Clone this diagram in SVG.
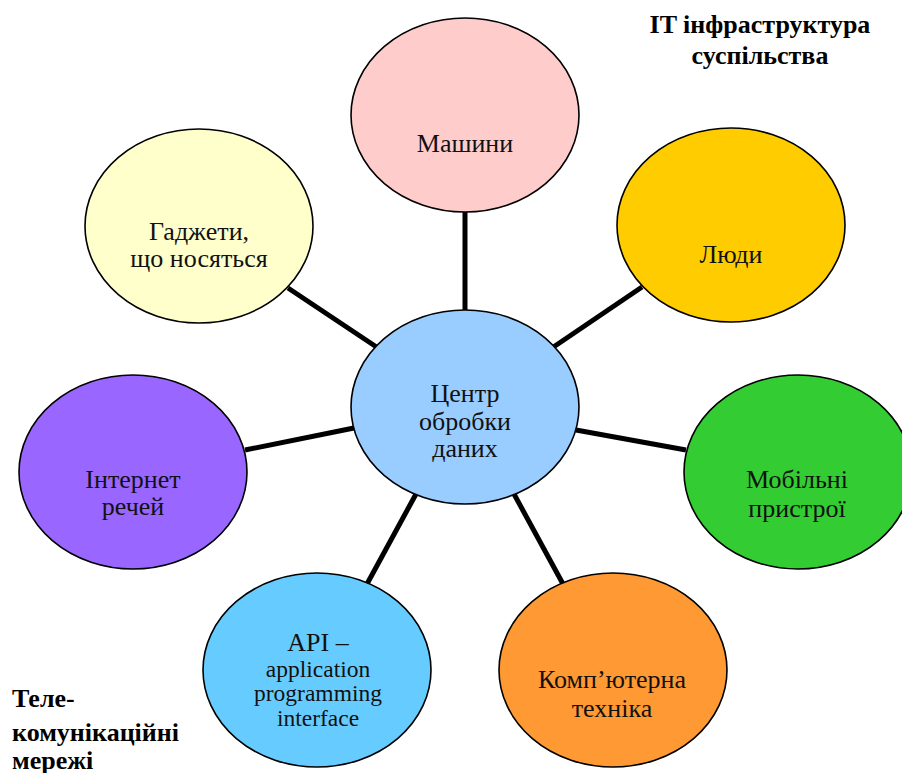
<svg xmlns="http://www.w3.org/2000/svg" width="902" height="773" viewBox="0 0 902 773">
  <style>
    .node ellipse { stroke: #000; stroke-width: 1.6; }
    .label { font-family: 'Liberation Serif', serif; font-size: 26px; fill: #111; text-anchor: middle; }
    .small { font-size: 23.5px; }
    .link { stroke: #000; stroke-width: 5; stroke-linecap: butt; }
    .caption { font-family: 'Liberation Serif', serif; font-size: 26px; font-weight: bold; fill: #000; }
  </style>
  <rect width="902" height="773" fill="#fff"/>

  <!-- spokes from the hub to every satellite -->
  <g id="connectors">
    <line class="link" x1="465" y1="210" x2="465" y2="312"/>
    <line class="link" x1="642" y1="287" x2="552" y2="348"/>
    <line class="link" x1="288" y1="288" x2="378" y2="348"/>
    <line class="link" x1="245" y1="450" x2="354" y2="428"/>
    <line class="link" x1="576" y1="430" x2="686" y2="450"/>
    <line class="link" x1="367" y1="584" x2="416" y2="494"/>
    <line class="link" x1="514" y1="494" x2="563" y2="584"/>
  </g>

  <g id="node-machines" class="node">
    <ellipse cx="465" cy="115" rx="114" ry="97" fill="#FFCCCC"/>
    <text class="label" font-family="Liberation Serif, serif" x="465" y="152">Машини</text>
  </g>

  <g id="node-people" class="node">
    <ellipse cx="731" cy="225" rx="114" ry="97" fill="#FFCC00"/>
    <text class="label" font-family="Liberation Serif, serif" x="731" y="263">Люди</text>
  </g>

  <g id="node-wearables" class="node">
    <ellipse cx="199" cy="226" rx="114" ry="97" fill="#FFFFCC"/>
    <text class="label" font-family="Liberation Serif, serif" x="199" y="240">Гаджети,</text>
    <text class="label" font-family="Liberation Serif, serif" x="199" y="267">що носяться</text>
  </g>

  <g id="node-datacenter" class="node">
    <ellipse cx="465" cy="407" rx="114" ry="97" fill="#99CCFF"/>
    <text class="label" font-family="Liberation Serif, serif" x="465" y="402">Центр</text>
    <text class="label" font-family="Liberation Serif, serif" x="465" y="430">обробки</text>
    <text class="label" font-family="Liberation Serif, serif" x="465" y="457">даних</text>
  </g>

  <g id="node-iot" class="node">
    <ellipse cx="133" cy="472" rx="114" ry="97" fill="#9966FF"/>
    <text class="label" font-family="Liberation Serif, serif" x="133" y="488">Інтернет</text>
    <text class="label" font-family="Liberation Serif, serif" x="133" y="515">речей</text>
  </g>

  <g id="node-mobile" class="node">
    <ellipse cx="798" cy="472" rx="114" ry="97" fill="#33CC33"/>
    <text class="label" font-family="Liberation Serif, serif" x="797" y="488">Мобільні</text>
    <text class="label" font-family="Liberation Serif, serif" x="797" y="517">пристрої</text>
  </g>

  <g id="node-api" class="node">
    <ellipse cx="317" cy="670" rx="114" ry="97" fill="#66CCFF"/>
    <text class="label" font-family="Liberation Serif, serif" x="318" y="651">API –</text>
    <text class="label small" font-family="Liberation Serif, serif" x="318" y="677">application</text>
    <text class="label small" font-family="Liberation Serif, serif" x="318" y="701">programming</text>
    <text class="label small" font-family="Liberation Serif, serif" x="318" y="726">interface</text>
  </g>

  <g id="node-computers" class="node">
    <ellipse cx="613" cy="670" rx="114" ry="97" fill="#FF9933"/>
    <text class="label" font-family="Liberation Serif, serif" x="612" y="688">Комп’ютерна</text>
    <text class="label" font-family="Liberation Serif, serif" x="612" y="717">техніка</text>
  </g>

  <!-- corner captions -->
  <g id="caption-top">
    <text class="caption" x="760" y="33" text-anchor="middle">IT інфраструктура</text>
    <text class="caption" x="760" y="64" text-anchor="middle">суспільства</text>
  </g>
  <g id="caption-bottom">
    <text class="caption" x="12" y="707">Теле-</text>
    <text class="caption" x="12" y="741">комунікаційні</text>
    <text class="caption" x="12" y="769">мережі</text>
  </g>
</svg>
